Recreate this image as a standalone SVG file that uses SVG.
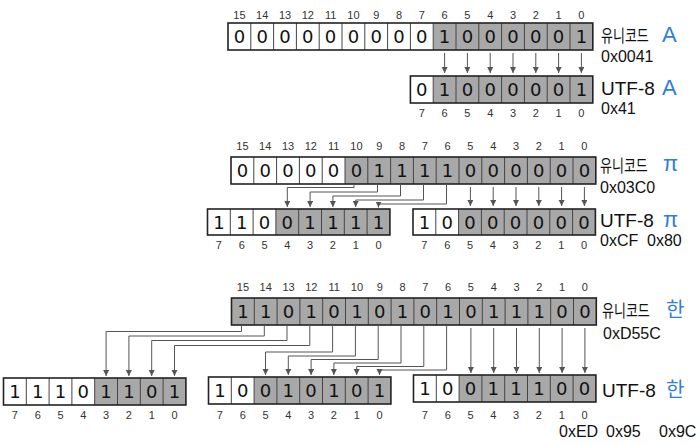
<svg xmlns="http://www.w3.org/2000/svg" width="700" height="445" viewBox="0 0 700 445">
<defs>
<marker id="ah" markerUnits="userSpaceOnUse" markerWidth="8" markerHeight="8" refX="6" refY="3" orient="auto">
<path d="M0,0 L6,3 L0,6 z" fill="#555"/>
</marker>
<style>
.w{fill:#fff}
.g{fill:#a8a8a8}
.sep{stroke:#444;stroke-width:1;fill:none}
.box{fill:none;stroke:#222;stroke-width:1.6}
.d{font-family:"DejaVu Sans","Liberation Sans",sans-serif;font-size:18px;fill:#111;text-anchor:middle}
.n{font-family:"Liberation Sans",sans-serif;font-size:11px;fill:#333;text-anchor:middle}
.lb{font-family:"Liberation Sans","Noto Sans CJK KR",sans-serif;font-size:19px;fill:#111}
.kr{font-family:"Noto Sans CJK KR",sans-serif;font-size:13px;fill:#111}
.hx{font-family:"Liberation Sans",sans-serif;font-size:16px;fill:#111}
.bl{font-family:"Liberation Sans","Noto Sans CJK KR",sans-serif;font-size:22px;fill:#2f7fd6}
.blk{font-family:"Noto Sans CJK KR",sans-serif;font-size:20px;fill:#2f7fd6}
.a{stroke:#555;stroke-width:1;fill:none;marker-end:url(#ah)}
</style>
</defs>
<rect width="700" height="445" fill="#fff"/>

<!-- ===== TOP: A ===== -->
<g id="uni-A">
<rect class="w" x="228" y="23" width="205.2" height="27"/>
<rect class="g" x="433.2" y="23" width="159.6" height="27"/>
<path class="sep" d="M250.8,23v27M273.6,23v27M296.4,23v27M319.2,23v27M342,23v27M364.8,23v27M387.6,23v27M410.4,23v27M433.2,23v27M456,23v27M478.8,23v27M501.6,23v27M524.4,23v27M547.2,23v27M570,23v27"/>
<rect class="box" x="228" y="23" width="364.8" height="27"/>
<g class="d">
<text x="239.4" y="43">0</text><text x="262.2" y="43">0</text><text x="285" y="43">0</text><text x="307.8" y="43">0</text><text x="330.6" y="43">0</text><text x="353.4" y="43">0</text><text x="376.2" y="43">0</text><text x="399" y="43">0</text><text x="421.8" y="43">0</text><text x="444.6" y="43">1</text><text x="467.4" y="43">0</text><text x="490.2" y="43">0</text><text x="513" y="43">0</text><text x="535.8" y="43">0</text><text x="558.6" y="43">0</text><text x="581.4" y="43">1</text>
</g>
<g class="n">
<text x="239.4" y="19">15</text><text x="262.2" y="19">14</text><text x="285" y="19">13</text><text x="307.8" y="19">12</text><text x="330.6" y="19">11</text><text x="353.4" y="19">10</text><text x="376.2" y="19">9</text><text x="399" y="19">8</text><text x="421.8" y="19">7</text><text x="444.6" y="19">6</text><text x="467.4" y="19">5</text><text x="490.2" y="19">4</text><text x="513" y="19">3</text><text x="535.8" y="19">2</text><text x="558.6" y="19">1</text><text x="581.4" y="19">0</text>
</g>
<text class="kr" transform="translate(601,42) scale(1,1.35)">유니코드</text>
<text class="bl" x="662" y="42">A</text>
<text class="hx" x="601" y="62">0x0041</text>
</g>

<g id="utf8-A">
<rect class="w" x="410.4" y="76" width="22.8" height="27"/>
<rect class="g" x="433.2" y="76" width="159.6" height="27"/>
<path class="sep" d="M433.2,76v27M456,76v27M478.8,76v27M501.6,76v27M524.4,76v27M547.2,76v27M570,76v27"/>
<rect class="box" x="410.4" y="76" width="182.4" height="27"/>
<g class="d">
<text x="421.8" y="96">0</text><text x="444.6" y="96">1</text><text x="467.4" y="96">0</text><text x="490.2" y="96">0</text><text x="513" y="96">0</text><text x="535.8" y="96">0</text><text x="558.6" y="96">0</text><text x="581.4" y="96">1</text>
</g>
<g class="n">
<text x="421.8" y="117">7</text><text x="444.6" y="117">6</text><text x="467.4" y="117">5</text><text x="490.2" y="117">4</text><text x="513" y="117">3</text><text x="535.8" y="117">2</text><text x="558.6" y="117">1</text><text x="581.4" y="117">0</text>
</g>
<text class="lb" x="601" y="95">UTF-8</text>
<text class="bl" x="662" y="95">A</text>
<text class="hx" x="601" y="114">0x41</text>
</g>

<!-- ===== MIDDLE: pi ===== -->
<g id="uni-pi">
<rect class="w" x="231" y="157" width="114" height="27"/>
<rect class="g" x="345" y="157" width="250.8" height="27"/>
<path class="sep" d="M253.8,157v27M276.6,157v27M299.4,157v27M322.2,157v27M345,157v27M367.8,157v27M390.6,157v27M413.4,157v27M436.2,157v27M459,157v27M481.8,157v27M504.6,157v27M527.4,157v27M550.2,157v27M573,157v27"/>
<rect class="box" x="231" y="157" width="364.8" height="27"/>
<g class="d">
<text x="242.4" y="177">0</text><text x="265.2" y="177">0</text><text x="288" y="177">0</text><text x="310.8" y="177">0</text><text x="333.6" y="177">0</text><text x="356.4" y="177">0</text><text x="379.2" y="177">1</text><text x="402" y="177">1</text><text x="424.8" y="177">1</text><text x="447.6" y="177">1</text><text x="470.4" y="177">0</text><text x="493.2" y="177">0</text><text x="516" y="177">0</text><text x="538.8" y="177">0</text><text x="561.6" y="177">0</text><text x="584.4" y="177">0</text>
</g>
<g class="n">
<text x="242.4" y="150">15</text><text x="265.2" y="150">14</text><text x="288" y="150">13</text><text x="310.8" y="150">12</text><text x="333.6" y="150">11</text><text x="356.4" y="150">10</text><text x="379.2" y="150">9</text><text x="402" y="150">8</text><text x="424.8" y="150">7</text><text x="447.6" y="150">6</text><text x="470.4" y="150">5</text><text x="493.2" y="150">4</text><text x="516" y="150">3</text><text x="538.8" y="150">2</text><text x="561.6" y="150">1</text><text x="584.4" y="150">0</text>
</g>
<text class="kr" transform="translate(600,172) scale(1,1.35)">유니코드</text>
<text class="bl" x="663" y="171">π</text>
<text class="hx" x="600" y="193">0x03C0</text>
</g>

<g id="utf8-pi-1">
<rect class="w" x="207.5" y="209" width="68.4" height="26"/>
<rect class="g" x="275.9" y="209" width="114" height="26"/>
<path class="sep" d="M230.3,209v26M253.1,209v26M275.9,209v26M298.7,209v26M321.5,209v26M344.3,209v26M367.1,209v26"/>
<rect class="box" x="207.5" y="209" width="182.4" height="26"/>
<g class="d">
<text x="218.9" y="228.5">1</text><text x="241.7" y="228.5">1</text><text x="264.5" y="228.5">0</text><text x="287.3" y="228.5">0</text><text x="310.1" y="228.5">1</text><text x="332.9" y="228.5">1</text><text x="355.7" y="228.5">1</text><text x="378.5" y="228.5">1</text>
</g>
<g class="n">
<text x="218.9" y="249">7</text><text x="241.7" y="249">6</text><text x="264.5" y="249">5</text><text x="287.3" y="249">4</text><text x="310.1" y="249">3</text><text x="332.9" y="249">2</text><text x="355.7" y="249">1</text><text x="378.5" y="249">0</text>
</g>
</g>

<g id="utf8-pi-2">
<rect class="w" x="413" y="209" width="45.6" height="26"/>
<rect class="g" x="458.6" y="209" width="136.8" height="26"/>
<path class="sep" d="M435.8,209v26M458.6,209v26M481.4,209v26M504.2,209v26M527,209v26M549.8,209v26M572.6,209v26"/>
<rect class="box" x="413" y="209" width="182.4" height="26"/>
<g class="d">
<text x="424.4" y="228.5">1</text><text x="447.2" y="228.5">0</text><text x="470" y="228.5">0</text><text x="492.8" y="228.5">0</text><text x="515.6" y="228.5">0</text><text x="538.4" y="228.5">0</text><text x="561.2" y="228.5">0</text><text x="584" y="228.5">0</text>
</g>
<g class="n">
<text x="424.4" y="249">7</text><text x="447.2" y="249">6</text><text x="470" y="249">5</text><text x="492.8" y="249">4</text><text x="515.6" y="249">3</text><text x="538.4" y="249">2</text><text x="561.2" y="249">1</text><text x="584" y="249">0</text>
</g>
<text class="lb" x="600" y="227">UTF-8</text>
<text class="bl" x="663" y="227">π</text>
<text class="hx" x="600" y="246">0xCF</text>
<text class="hx" x="647" y="246">0x80</text>
</g>

<!-- ===== BOTTOM: han ===== -->
<g id="uni-han">
<rect class="g" x="231.5" y="298" width="364.8" height="27"/>
<path class="sep" d="M254.3,298v27M277.1,298v27M299.9,298v27M322.7,298v27M345.5,298v27M368.3,298v27M391.1,298v27M413.9,298v27M436.7,298v27M459.5,298v27M482.3,298v27M505.1,298v27M527.9,298v27M550.7,298v27M573.5,298v27"/>
<rect class="box" x="231.5" y="298" width="364.8" height="27"/>
<g class="d">
<text x="242.9" y="318">1</text><text x="265.7" y="318">1</text><text x="288.5" y="318">0</text><text x="311.3" y="318">1</text><text x="334.1" y="318">0</text><text x="356.9" y="318">1</text><text x="379.7" y="318">0</text><text x="402.5" y="318">1</text><text x="425.3" y="318">0</text><text x="448.1" y="318">1</text><text x="470.9" y="318">0</text><text x="493.7" y="318">1</text><text x="516.5" y="318">1</text><text x="539.3" y="318">1</text><text x="562.1" y="318">0</text><text x="584.9" y="318">0</text>
</g>
<g class="n">
<text x="242.9" y="291">15</text><text x="265.7" y="291">14</text><text x="288.5" y="291">13</text><text x="311.3" y="291">12</text><text x="334.1" y="291">11</text><text x="356.9" y="291">10</text><text x="379.7" y="291">9</text><text x="402.5" y="291">8</text><text x="425.3" y="291">7</text><text x="448.1" y="291">6</text><text x="470.9" y="291">5</text><text x="493.7" y="291">4</text><text x="516.5" y="291">3</text><text x="539.3" y="291">2</text><text x="562.1" y="291">1</text><text x="584.9" y="291">0</text>
</g>
<text class="kr" transform="translate(602,317) scale(1,1.35)">유니코드</text>
<text class="blk" x="666" y="317">한</text>
<text class="hx" x="603" y="339">0xD55C</text>
</g>

<g id="utf8-han-1">
<rect class="w" x="3.5" y="378" width="91.2" height="27"/>
<rect class="g" x="94.7" y="378" width="91.2" height="27"/>
<path class="sep" d="M26.3,378v27M49.1,378v27M71.9,378v27M94.7,378v27M117.5,378v27M140.3,378v27M163.1,378v27"/>
<rect class="box" x="3.5" y="378" width="182.4" height="27"/>
<g class="d">
<text x="14.9" y="398">1</text><text x="37.7" y="398">1</text><text x="60.5" y="398">1</text><text x="83.3" y="398">0</text><text x="106.1" y="398">1</text><text x="128.9" y="398">1</text><text x="151.7" y="398">0</text><text x="174.5" y="398">1</text>
</g>
<g class="n">
<text x="14.9" y="419">7</text><text x="37.7" y="419">6</text><text x="60.5" y="419">5</text><text x="83.3" y="419">4</text><text x="106.1" y="419">3</text><text x="128.9" y="419">2</text><text x="151.7" y="419">1</text><text x="174.5" y="419">0</text>
</g>
</g>

<g id="utf8-han-2">
<rect class="w" x="208.5" y="377" width="45.6" height="27"/>
<rect class="g" x="254.1" y="377" width="136.8" height="27"/>
<path class="sep" d="M231.3,377v27M254.1,377v27M276.9,377v27M299.7,377v27M322.5,377v27M345.3,377v27M368.1,377v27"/>
<rect class="box" x="208.5" y="377" width="182.4" height="27"/>
<g class="d">
<text x="219.9" y="397">1</text><text x="242.7" y="397">0</text><text x="265.5" y="397">0</text><text x="288.3" y="397">1</text><text x="311.1" y="397">0</text><text x="333.9" y="397">1</text><text x="356.7" y="397">0</text><text x="379.5" y="397">1</text>
</g>
<g class="n">
<text x="219.9" y="419">7</text><text x="242.7" y="419">6</text><text x="265.5" y="419">5</text><text x="288.3" y="419">4</text><text x="311.1" y="419">3</text><text x="333.9" y="419">2</text><text x="356.7" y="419">1</text><text x="379.5" y="419">0</text>
</g>
</g>

<g id="utf8-han-3">
<rect class="w" x="413.5" y="375" width="45.6" height="27"/>
<rect class="g" x="459.1" y="375" width="136.8" height="27"/>
<path class="sep" d="M436.3,375v27M459.1,375v27M481.9,375v27M504.7,375v27M527.5,375v27M550.3,375v27M573.1,375v27"/>
<rect class="box" x="413.5" y="375" width="182.4" height="27"/>
<g class="d">
<text x="424.9" y="395">1</text><text x="447.7" y="395">0</text><text x="470.5" y="395">0</text><text x="493.3" y="395">1</text><text x="516.1" y="395">1</text><text x="538.9" y="395">1</text><text x="561.7" y="395">0</text><text x="584.5" y="395">0</text>
</g>
<g class="n">
<text x="424.9" y="419">7</text><text x="447.7" y="419">6</text><text x="470.5" y="419">5</text><text x="493.3" y="419">4</text><text x="516.1" y="419">3</text><text x="538.9" y="419">2</text><text x="561.7" y="419">1</text><text x="584.5" y="419">0</text>
</g>
<text class="lb" x="602" y="397">UTF-8</text>
<text class="blk" x="666" y="397">한</text>
<text class="hx" x="559" y="437">0xED</text>
<text class="hx" x="606" y="437">0x95</text>
<text class="hx" x="659" y="437">0x9C</text>
</g>

<!-- ===== CONNECTORS ===== -->
<g id="connectors">
<path class="a" d="M444.6,53V73"/>
<path class="a" d="M467.4,53V73"/>
<path class="a" d="M490.2,53V73"/>
<path class="a" d="M513,53V73"/>
<path class="a" d="M535.8,53V73"/>
<path class="a" d="M558.6,53V73"/>
<path class="a" d="M581.4,53V73"/>

<path class="a" d="M354,184V187.5H287.3V207"/>
<path class="a" d="M377.5,184V192H310.1V207"/>
<path class="a" d="M400.5,184V196H332.9V207"/>
<path class="a" d="M423.5,184V200H355.7V207"/>
<path class="a" d="M446.5,184V204H378.5V207.5"/>
<path class="a" d="M470.4,187V206"/>
<path class="a" d="M493.2,187V206"/>
<path class="a" d="M516,187V206"/>
<path class="a" d="M538.8,187V206"/>
<path class="a" d="M561.6,187V206"/>
<path class="a" d="M584.4,187V206"/>

<path class="a" d="M241.5,325V331.5H106.1V376"/>
<path class="a" d="M264.3,325V336H128.9V376"/>
<path class="a" d="M287,325V340.5H151.7V376"/>
<path class="a" d="M309.8,325V345.5H174.5V376"/>
<path class="a" d="M332.6,325V352H265.5V375"/>
<path class="a" d="M355.4,325V356H288.3V375"/>
<path class="a" d="M378.2,325V359.5H311.1V375"/>
<path class="a" d="M401,325V363H333.9V375"/>
<path class="a" d="M423.8,325V366.5H356.7V375"/>
<path class="a" d="M446.6,325V370H379.5V375"/>
<path class="a" d="M470.9,328V373"/>
<path class="a" d="M493.7,328V373"/>
<path class="a" d="M516.5,328V373"/>
<path class="a" d="M539.3,328V373"/>
<path class="a" d="M562.1,328V373"/>
<path class="a" d="M584.9,328V373"/>
</g>
</svg>
